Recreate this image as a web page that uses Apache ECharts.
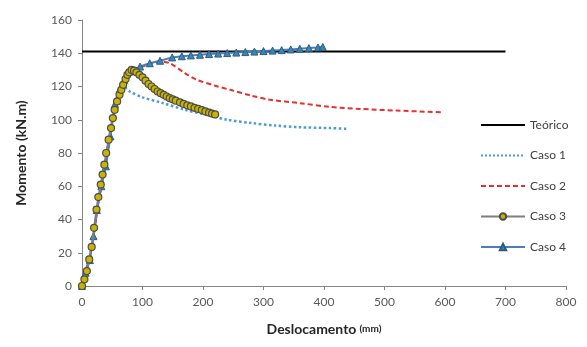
<!DOCTYPE html>
<html><head><meta charset="utf-8">
<script src="https://cdn.jsdelivr.net/npm/echarts@6/dist/echarts.min.js"></script>
<style>html,body{margin:0;padding:0;background:#fff}#c{width:587px;height:347px}</style>
</head><body><div id="c"></div>
<script>
var xTicks = [0,100,200,300,400,500,600,700,800];
var yTicks = [0,20,40,60,80,100,120,140,160];

var teoricoX = [0, 700];
var teoricoY = [141, 141];

var caso1X = [0,6,13,20,27,34,41,48,55,62,70,79,100,134,170,205,240,280,320,360,410,440];
var caso1Y = [0,9,18,32,50,64,80,96,108,116,119.5,117,113.5,110,106,103,100,98,96.5,95.5,95,94.5];

var caso2X = [0,6,13,20,27,34,41,48,55,62,70,79,96,112,129,145,170,190,220,245,280,311,360,410,460,520,597];
var caso2Y = [0,9,18,32,50,64,80,96,108,116,123,128.5,131.5,133.5,135,134,128,124,120.5,118,114.5,112,110,107.7,106.5,105.5,104.5];

var caso3X = [0,4,8,12,16,20,24,27,31,34,37,40,44,48,51,54,58,62,65,68,72,75,78,82,86,90,95,100,105,110,115,120,125,130,135,140,145,150,155,162,168,174,180,186,192,198,204,210,215,220];
var caso3Y = [0,4,9,16,23.5,35,46,53.5,61,67,73,80,88,95,101,106,111,115,118,121,124.5,127,128.5,130,129.5,128.5,127,125.5,123.5,121.5,120,118.5,117,116,115,114,113,112.3,111.5,110.5,109.5,108.7,108,107.2,106.5,105.8,105,104.3,103.7,103.2];

var caso4X = [0,6,13,19,24.5,32,39.5,47,54.5,62,70,79,96,112,129,149,165,180,195,210,225,240,255,270,285,300,315,330,345,360,375,390,398];
var caso4Y = [0,8,15.6,30,45.7,60,72,90,109.5,118,124,129,132,134,135.5,137.5,138.2,138.7,139.1,139.5,139.8,140.1,140.4,140.7,141,141.3,141.6,141.9,142.3,142.7,143.1,143.5,143.8];

function pairs(xs, ys){ return xs.map(function(x,i){ return [x, ys[i]]; }); }

var chart = echarts.init(document.getElementById('c'));
var font = 'Lato, "Open Sans", sans-serif';
chart.setOption({
  animation: false,
  textStyle: {fontFamily: font},
  grid: {left: 82, right: 21, top: 20, bottom: 61},
  xAxis: {
    type: 'value', min: 0, max: 800, interval: 100,
    name: '{b|Deslocamento} {s|(mm)}', nameLocation: 'middle', nameGap: 36,
    nameTextStyle: {rich: {b: {fontSize: 14, fontWeight: 'bold', color: '#262626', fontFamily: font}, s: {fontSize: 10, fontWeight: 'bold', color: '#262626', fontFamily: font}}},
    axisLine: {lineStyle: {color: '#868686', width: 1}},
    axisTick: {show: true, inside: false, length: 4, lineStyle: {color: '#868686'}},
    axisLabel: {color: '#595959', fontSize: 12, margin: 10},
    splitLine: {show: false}
  },
  yAxis: {
    type: 'value', min: 0, max: 160, interval: 20,
    name: 'Momento (kN.m)', nameLocation: 'middle', nameGap: 54, nameRotate: 90,
    nameTextStyle: {fontSize: 14, fontWeight: 'bold', color: '#262626'},
    axisLine: {show: true, lineStyle: {color: '#868686', width: 1}},
    axisTick: {show: true, length: 4, lineStyle: {color: '#868686'}},
    axisLabel: {color: '#595959', fontSize: 12, margin: 10},
    splitLine: {show: false}
  },
  legend: {
    orient: 'vertical', left: 478, top: 115, itemWidth: 44, itemHeight: 8, itemGap: 18.5,
    backgroundColor: '#fff', padding: [4, 6, 4, 2],
    textStyle: {color: '#404040', fontSize: 12},
    data: [
      {name: 'Teórico', itemStyle: {opacity: 0}},
      {name: 'Caso 1', itemStyle: {opacity: 0}},
      {name: 'Caso 2', itemStyle: {opacity: 0}},
      {name: 'Caso 3'},
      {name: 'Caso 4'}
    ]
  },
  series: [
    {name: 'Teórico', type: 'line', data: pairs(teoricoX, teoricoY), showSymbol: false, symbol: 'none',
     lineStyle: {color: '#000', width: 2}, itemStyle: {color: '#000'}, z: 2},
    {name: 'Caso 1', type: 'line', data: pairs(caso1X, caso1Y), symbol: 'none', smooth: 0.3,
     lineStyle: {color: '#4a9ad8', width: 2.5, type: 'dotted'}, itemStyle: {color: '#4a9ad8'}, z: 3},
    {name: 'Caso 2', type: 'line', data: pairs(caso2X, caso2Y), symbol: 'none', smooth: 0.3,
     lineStyle: {color: '#e8302f', width: 2, type: [5, 3]}, itemStyle: {color: '#e8302f'}, z: 3},
    {name: 'Caso 3', type: 'line', data: pairs(caso3X, caso3Y), symbol: 'circle', symbolSize: 7, showAllSymbol: true,
     lineStyle: {color: '#7f7f7f', width: 2}, itemStyle: {color: '#c9b400', borderColor: '#4d4d4d', borderWidth: 1.2}, z: 5},
    {name: 'Caso 4', type: 'line', data: pairs(caso4X, caso4Y), symbol: 'triangle', symbolSize: 7, showAllSymbol: true,
     lineStyle: {color: '#4a7ebb', width: 2}, itemStyle: {color: '#3b86b3', borderColor: '#2b5d80', borderWidth: 1}, z: 4}
  ]
});
</script></body></html>
